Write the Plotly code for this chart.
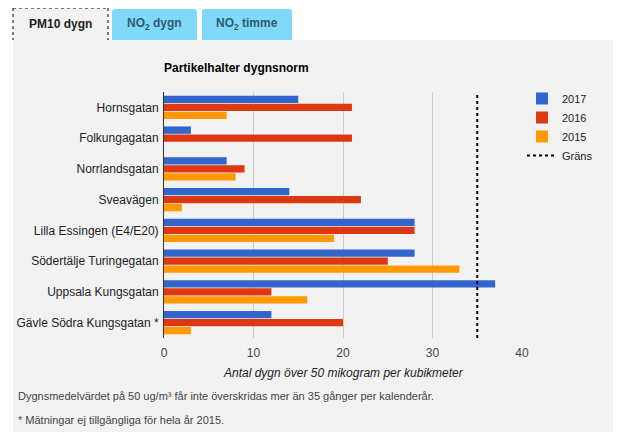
import plotly.graph_objects as go

categories = ["Hornsgatan", "Folkungagatan", "Norrlandsgatan", "Sveavägen",
              "Lilla Essingen (E4/E20)", "Södertälje Turingegatan",
              "Uppsala Kungsgatan", "Gävle Södra Kungsgatan *"]
v2017 = [15, 3, 7, 14, 28, 28, 37, 12]
v2016 = [21, 21, 9, 22, 28, 25, 12, 20]
v2015 = [7, 0, 8, 2, 19, 33, 16, 3]
limit = 35
x_ticks = [0, 10, 20, 30, 40]
series_names = ["2017", "2016", "2015"]
colors = ["#3366cc", "#dc3912", "#ff9900"]

OFF = 8  # page body margin
W, H = 624 - OFF, 444 - OFF
L, R, T, B = 164, 522, 92, 338   # plot area in window pixels
FONT = "Arial, Liberation Sans, sans-serif"


def px(x):
    return (x - L) / (R - L)


def py(y):
    return (B - y) / (B - T)


def tab_path(x0, x1, y0, y1, r=3):
    return (f"M {px(x0)},{py(y1)} L {px(x0)},{py(y0 + r)} "
            f"Q {px(x0)},{py(y0)} {px(x0 + r)},{py(y0)} "
            f"L {px(x1 - r)},{py(y0)} Q {px(x1)},{py(y0)} {px(x1)},{py(y0 + r)} "
            f"L {px(x1)},{py(y1)} Z")


fig = go.Figure()
for name, vals, c in zip(series_names, [v2017, v2016, v2015], colors):
    fig.add_trace(go.Bar(y=categories, x=vals, name=name, orientation="h",
                         marker=dict(color=c, line=dict(width=0))))

fig.add_trace(go.Scatter(x=[limit, limit], y=[0, 1], yaxis="y2", mode="lines",
                         name="Gräns", line=dict(color="black", width=2, dash="dot")))

dot = dict(color="black", width=1, dash="dot")
shapes = [
    dict(type="rect", xref="paper", yref="paper", x0=px(13), x1=px(613), y0=py(432), y1=py(40),
         fillcolor="#f2f2f2", line=dict(width=0), layer="below"),
    dict(type="rect", xref="paper", yref="paper", x0=px(13), x1=px(108), y0=py(40), y1=py(8),
         fillcolor="#f2f2f2", line=dict(width=0), layer="below"),
    dict(type="line", xref="paper", yref="paper", x0=px(13), x1=px(108), y0=py(8), y1=py(8),
         line=dot, layer="below"),
    dict(type="line", xref="paper", yref="paper", x0=px(13), x1=px(13), y0=py(8), y1=py(40),
         line=dot, layer="below"),
    dict(type="line", xref="paper", yref="paper", x0=px(108), x1=px(108), y0=py(8), y1=py(40),
         line=dot, layer="below"),
    dict(type="path", xref="paper", yref="paper", path=tab_path(112, 197, 9, 40),
         fillcolor="#80d9f8", line=dict(width=0), layer="below"),
    dict(type="path", xref="paper", yref="paper", path=tab_path(202, 292, 9, 40),
         fillcolor="#80d9f8", line=dict(width=0), layer="below"),
]


def ann(text, x, y, size=12, color="#222", xanchor="center"):
    return dict(text=text, x=px(x), y=py(y), xref="paper", yref="paper",
                xanchor=xanchor, yanchor="middle", showarrow=False,
                font=dict(size=size, color=color, family=FONT))


annotations = [
    ann("<b>PM10 dygn</b>", 60.5, 24, 12, "#222"),
    ann("<b>NO<sub>2</sub> dygn</b>", 154.5, 24, 12, "#2f5b6e"),
    ann("<b>NO<sub>2</sub> timme</b>", 247, 24, 12, "#2f5b6e"),
    ann("<b>Partikelhalter dygnsnorm</b>", 162, 68, 12, "#000", "left"),
    ann("<i>Antal dygn över 50 mikogram per kubikmeter</i>", 343, 373, 12, "#222"),
    ann("Dygnsmedelvärdet på 50 ug/m³ får inte överskridas mer än 35 gånger per kalenderår.",
        16, 396, 11, "#444", "left"),
    ann("* Mätningar ej tillgängliga för hela år 2015.", 16, 420, 11, "#444", "left"),
]

fig.update_layout(
    width=W, height=H,
    margin=dict(l=L - OFF, r=W - (R - OFF), t=T - OFF, b=H - (B - OFF), pad=0, autoexpand=False),
    paper_bgcolor="white", plot_bgcolor="rgba(0,0,0,0)",
    font=dict(family=FONT, size=12, color="#222"),
    barmode="group", bargap=0.22, bargroupgap=0.08,
    showlegend=True,
    legend=dict(x=px(522), y=py(84), xanchor="left", yanchor="top",
                bgcolor="rgba(0,0,0,0)", font=dict(size=11, color="#222"),
                traceorder="normal", itemwidth=30, tracegroupgap=0),
    xaxis=dict(range=[0, 40], tickvals=x_ticks, showgrid=True, gridcolor="#cccccc",
               gridwidth=1, zeroline=False, showline=False, ticks="",
               ticklabelstandoff=6,
               tickfont=dict(size=12, color="#444"), fixedrange=True),
    yaxis=dict(autorange="reversed", showline=True, linecolor="#333", linewidth=1,
               ticks="", ticklabelstandoff=2,
               tickfont=dict(size=12, color="#222"), showgrid=False),
    yaxis2=dict(overlaying="y", range=[0, 1], visible=False),
    shapes=shapes,
    annotations=annotations,
)

fig.write_html("out.html")
